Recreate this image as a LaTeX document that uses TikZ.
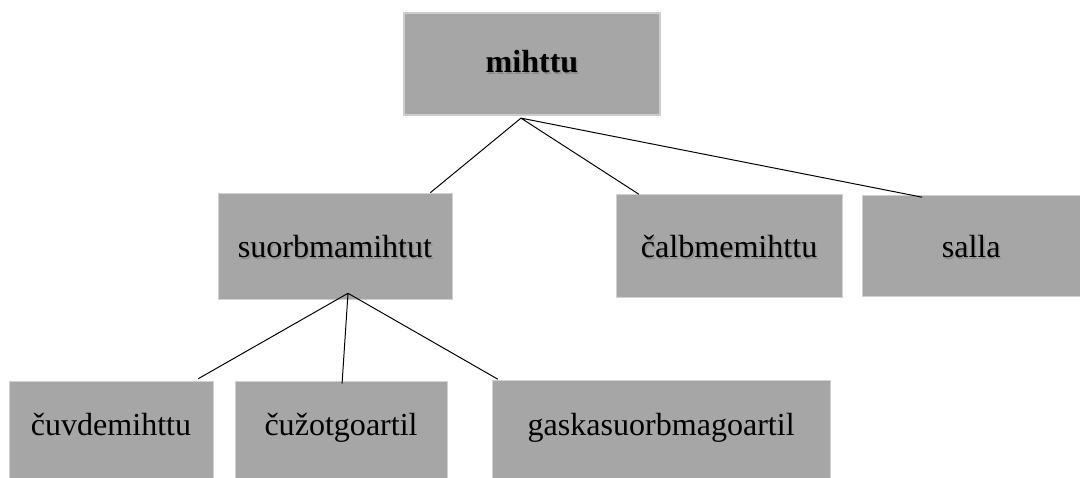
\documentclass[tikz,border=0pt]{standalone}
\usepackage{fontspec}
\setmainfont{Liberation Serif}
\usetikzlibrary{positioning}

\definecolor{boxgray}{HTML}{A6A6A6}
\newcommand{\shtext}[1]{\makebox[0pt][l]{\raisebox{-1pt}[0pt][0pt]{\hspace{1pt}\textcolor{black!45}{#1}}}#1}

\begin{document}
\begin{tikzpicture}[x=0.025cm,y=0.025cm,on grid,
        box/.style={rectangle,fill=boxgray,draw=black!18,line width=0.4pt,inner sep=0pt,
                font=\fontsize{22.8}{27}\selectfont,text height=20.5pt,text depth=3.5pt},
        lowbox/.style={box,text height=16pt,text depth=6.8pt},
        link/.style={draw,line width=0.7pt}]
        \useasboundingbox (0,0) rectangle (1080,478);
        \node[box, draw=black!20, line width=1.6pt, text height=18pt, text depth=5.2pt,
                minimum width=6.4cm, minimum height=2.55cm] (root) at (532,414) {\textbf{\shtext{mihttu}}};
        \node[box, minimum width=5.85cm, minimum height=2.65cm] (sub) at (335,232) {\shtext{suorbmamihtut}};
        \node[box, minimum width=5.65cm, minimum height=2.575cm, right=9.85cm of sub] (calb) {\shtext{čalbmemihttu}};
        \node[box, minimum width=5.45cm, minimum height=2.525cm, right=6.05cm of calb] (salla) {\shtext{salla}};
        \node[lowbox, minimum width=5.1cm, minimum height=2.425cm] (cuvde) at (111,48.5) {čuvdemihttu};
        \node[lowbox, minimum width=5.3cm, minimum height=2.425cm, right=5.75cm of cuvde] (cuzot) {čužotgoartil};
        \node[lowbox, minimum width=8.45cm, minimum height=2.45cm, right=8cm of cuzot] (gaska) {gaskasuorbmagoartil};
        \coordinate (rootfoot) at ([shift={(-11,-2)}]root.south);
        \coordinate (subfoot) at ([shift={(13,6)}]sub.south);
        \path[link]
                (rootfoot) -- ([shift={(-22,0)}]sub.north east)
                (rootfoot) -- ([shift={(23,0)}]calb.north west)
                (rootfoot) -- ([shift={(-49,-2)}]salla.north);
        \path[link]
                (subfoot) -- ([shift={(-15,2)}]cuvde.north east)
                (subfoot) -- ([shift={(1,-3)}]cuzot.north)
                (subfoot) -- ([shift={(6,1)}]gaska.north west);
\end{tikzpicture}
\end{document}
